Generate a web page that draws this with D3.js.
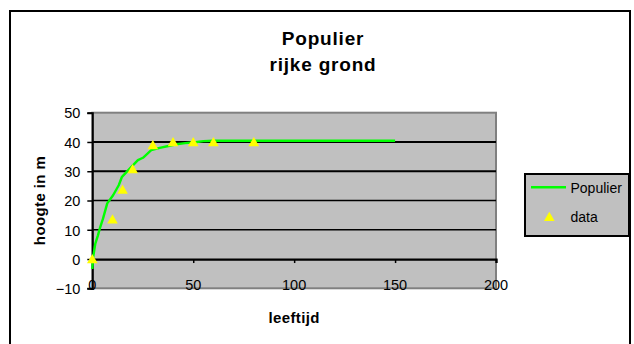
<!DOCTYPE html>
<html>
<head>
<meta charset="utf-8">
<script src="https://cdn.jsdelivr.net/npm/d3@7"></script>
<style>
  html, body { margin: 0; padding: 0; background: #fff; }
  svg { display: block; }
  text { font-family: "Liberation Sans", Arial, sans-serif; fill: #000; }
</style>
</head>
<body>
<svg id="chart" width="634" height="344"></svg>
<script>
// Modelled growth curve (age in years -> height in m)
const curveAge    = [0, 0.4, 1.5, 2.8, 3.7, 5.3, 7.4, 10.3, 13.1, 14.7, 16.8, 20.2, 22.6, 25.1, 29.2, 33.4, 38.3, 41.6, 46, 51, 55, 60, 80, 100, 150];
const curveHeight = [-3.4, 0.5, 5.3, 8.1, 10.4, 13.8, 19, 21.8, 25.2, 28.1, 29.6, 32.1, 33.8, 34.6, 37.2, 38, 38.7, 39.2, 39.6, 39.9, 40.3, 40.4, 40.4, 40.4, 40.4];

// Measured heights
const dataAge    = [0, 10, 15, 20, 30, 40, 50, 60, 80];
const dataHeight = [0, 13.6, 23.8, 30.8, 39, 40, 40, 40, 40];

const xTicks = [0, 50, 100, 150, 200];
const yTicks = [-10, 0, 10, 20, 30, 40, 50];

const titleLines = ["Populier", "rijke grond"];
const xTitle = "leeftijd";
const yTitle = "hoogte in m";
const seriesNames = ["Populier", "data"];

const svg = d3.select("#chart");
const GREEN = "#00ff00";
const YELLOW = "#ffff00";
const PLOT_BG = "#c0c0c0";

// chart frame
svg.append("rect")
  .attr("x", 10).attr("y", 11).attr("width", 620).attr("height", 345)
  .attr("fill", "#fff").attr("stroke", "#000").attr("stroke-width", 2);

const plot = { left: 92.3, right: 496, top: 112.7, bottom: 288.3 };
const x = d3.scaleLinear().domain([0, 200]).range([plot.left, plot.right]);
const y = d3.scaleLinear().domain([-10, 50]).range([plot.bottom, plot.top]);

// plot area
svg.append("rect")
  .attr("x", plot.left).attr("y", plot.top)
  .attr("width", plot.right - plot.left).attr("height", plot.bottom - plot.top)
  .attr("fill", PLOT_BG).attr("stroke", "#808080").attr("stroke-width", 2);

// horizontal gridlines
const gridWidth = v => (v === 30 || v === 40) ? 2 : 1.3;
svg.append("g").selectAll("line")
  .data(yTicks.filter(v => v > 0 && v < 50))
  .join("line")
  .attr("x1", plot.left).attr("x2", plot.right)
  .attr("y1", d => y(d)).attr("y2", d => y(d))
  .attr("stroke", "#000").attr("stroke-width", gridWidth);

// y axis (left), ticks outward
const yAxis = d3.axisLeft(y).tickValues(yTicks).tickSize(5).tickPadding(7).tickFormat(d3.format("d"));
const gy = svg.append("g").attr("transform", `translate(${plot.left},0)`).call(yAxis);
gy.select(".domain").attr("stroke", "#000").attr("stroke-width", 2);
gy.selectAll(".tick line").attr("stroke", "#000").attr("stroke-width", 1.5);
gy.selectAll(".tick text")
  .attr("font-size", "14.5px").attr("font-family", "Liberation Sans, Arial, sans-serif")
  .attr("fill", "#000").attr("dy", "0.36em");

// x axis crossing at height 0, ticks below
const xAxis = d3.axisBottom(x).tickValues(xTicks).tickSize(4).tickFormat("");
const gx = svg.append("g").attr("transform", `translate(0,${y(0)})`).call(xAxis);
gx.select(".domain").attr("stroke", "#000").attr("stroke-width", 2.2);
gx.selectAll(".tick line").attr("stroke", "#000").attr("stroke-width", 1.5);

// x tick labels sit along the bottom of the plot
svg.append("g").selectAll("text")
  .data(xTicks)
  .join("text")
  .attr("x", d => x(d)).attr("y", plot.bottom + 1.3)
  .attr("text-anchor", "middle")
  .attr("font-size", "14.5px")
  .text(d => d);

// modelled curve
const line = d3.line().x(d => x(d[0])).y(d => y(d[1]));
svg.append("path")
  .datum(curveAge.map((a, i) => [a, curveHeight[i]]))
  .attr("d", line)
  .attr("fill", "none").attr("stroke", GREEN).attr("stroke-width", 2.4)
  .attr("stroke-linejoin", "round");

// triangle markers
const tri = "M0,-5L5.3,4.3L-5.3,4.3Z";
svg.append("g").selectAll("path")
  .data(dataAge.map((a, i) => [a, dataHeight[i]]))
  .join("path")
  .attr("transform", d => `translate(${x(d[0])},${y(d[1])})`)
  .attr("d", tri)
  .attr("fill", YELLOW);

// title
svg.append("g").selectAll("text")
  .data(titleLines)
  .join("text")
  .attr("x", 323).attr("y", (d, i) => 45 + i * 25.7)
  .attr("text-anchor", "middle")
  .attr("font-size", "19px").attr("font-weight", "bold")
  .attr("letter-spacing", "0.8px")
  .text(d => d);

// axis titles
svg.append("text")
  .attr("x", (plot.left + plot.right) / 2).attr("y", 323.3)
  .attr("text-anchor", "middle")
  .attr("font-size", "15px").attr("font-weight", "bold")
  .attr("letter-spacing", "0.4px")
  .text(xTitle);

svg.append("text")
  .attr("transform", `translate(45,${(plot.top + plot.bottom) / 2}) rotate(-90)`)
  .attr("text-anchor", "middle")
  .attr("font-size", "15px").attr("font-weight", "bold")
  .attr("letter-spacing", "0.4px")
  .text(yTitle);

// legend
const lg = svg.append("g").attr("transform", "translate(525,174)");
lg.append("rect")
  .attr("width", 104).attr("height", 62)
  .attr("fill", PLOT_BG).attr("stroke", "#000").attr("stroke-width", 2);
lg.append("line")
  .attr("x1", 6).attr("x2", 41).attr("y1", 13.3).attr("y2", 13.3)
  .attr("stroke", GREEN).attr("stroke-width", 2.4);
lg.append("path")
  .attr("transform", "translate(24.3,42.7)")
  .attr("d", tri).attr("fill", YELLOW);
lg.selectAll("text.lbl")
  .data(seriesNames)
  .join("text")
  .attr("class", "lbl")
  .attr("x", 45.5).attr("y", (d, i) => 13.5 + i * 29.2)
  .attr("dy", "0.36em")
  .attr("font-size", "14px")
  .text(d => d);
</script>
</body>
</html>
